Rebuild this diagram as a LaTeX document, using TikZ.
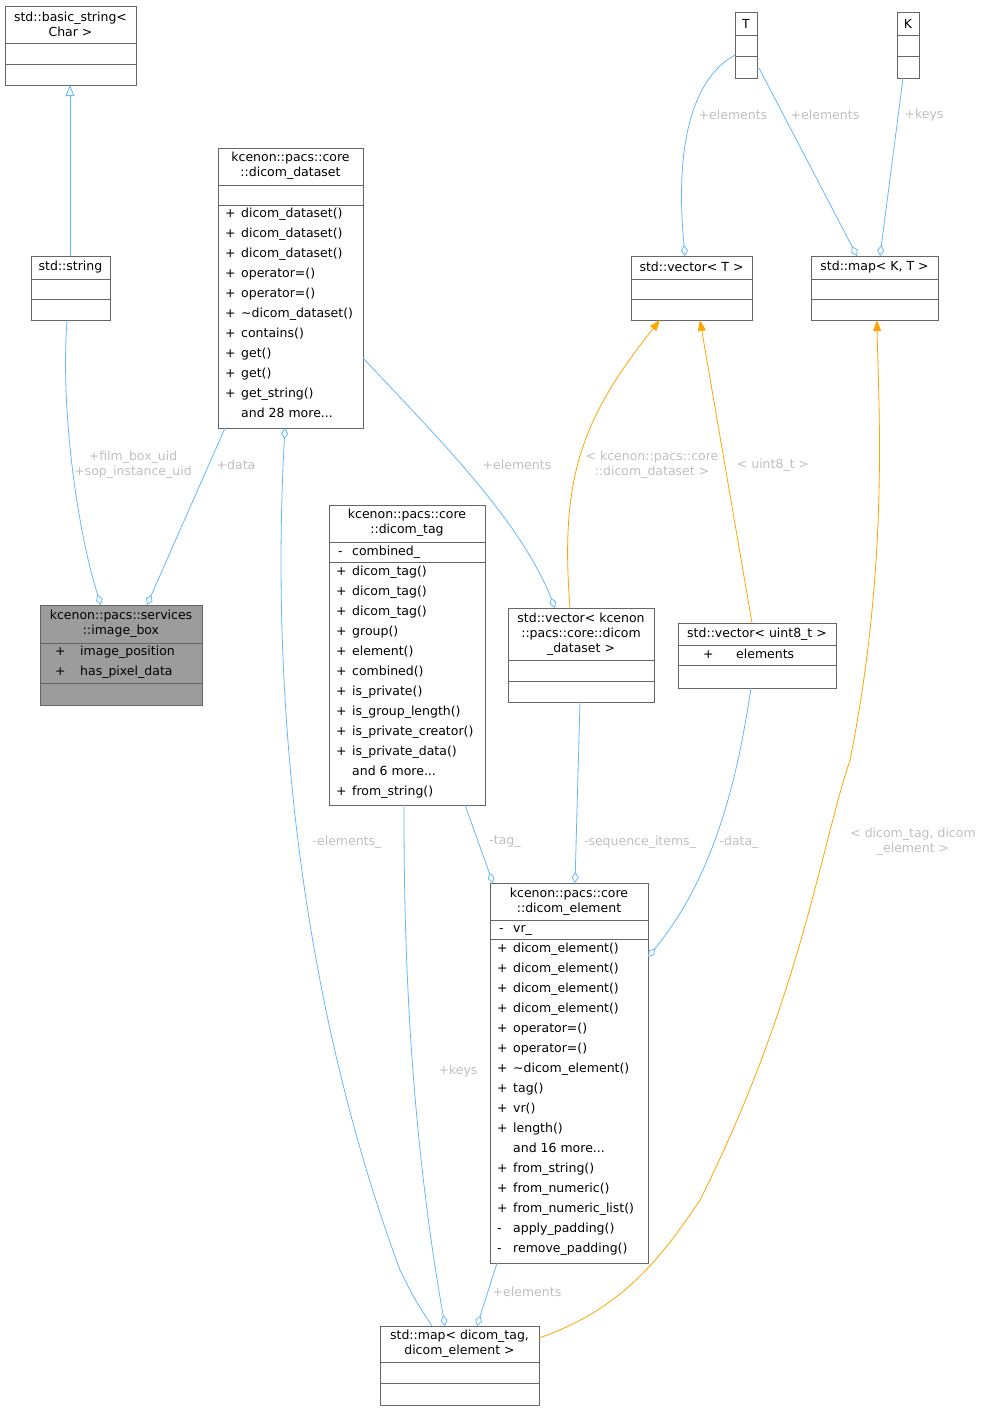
\documentclass[tikz,border=0pt]{standalone}
\usepackage{fontspec}
\setmainfont{DejaVu Sans}
\usetikzlibrary{arrows.meta}
\definecolor{eb}{HTML}{63B8FF}
\definecolor{eo}{HTML}{FFA500}
\definecolor{lg}{HTML}{BFBFBF}
\definecolor{bd}{HTML}{666666}
\newcommand\mdots{.\kern0pt.\kern0pt.}
\begin{document}
\begin{tikzpicture}[x=1pt,y=-1pt,
  font=\fontsize{12.5}{15}\selectfont,
  box/.style={draw=bd,line width=0.8pt},
  mem/.style={anchor=west,inner sep=0pt,text height=9pt,text depth=2.5pt},
  ttl/.style={align=center,inner sep=0pt},
  lbl/.style={text=lg,align=center,inner sep=0pt},
  agg/.style={draw=eb,line width=0.8pt,{Diamond[open,length=11pt,width=7pt]}-},
  tpl/.style={draw=eo,line width=0.8pt,-{Triangle[length=11pt,width=8pt]}}]
\useasboundingbox (0,0) rectangle (985,1411);
% basic_string
\draw[box] (5,6) rectangle (136,85); \draw[bd,line width=0.8pt] (5,43)--(136,43) (5,64)--(136,64);
\node[ttl] (bst) at (70.5,24) {std::basic\_string<\\Char >};
% std::string
\draw[box] (31,256) rectangle (110,320); \draw[bd,line width=0.8pt] (31,279)--(110,279) (31,299)--(110,299);
\node[ttl] (st) at (70.5,267) {std::string};
% dicom_dataset
\draw[box] (218,148) rectangle (363,428); \draw[bd,line width=0.8pt] (218,185)--(363,185) (218,205)--(363,205);
\node[ttl] (dst) at (290.5,166) {kcenon::pacs::core\\::dicom\_dataset};
\foreach[count=\i] \s/\t in {+/dicom\_dataset(),+/dicom\_dataset(),+/dicom\_dataset(),+/operator=(),+/operator=(),+/\textasciitilde dicom\_dataset(),+/contains(),+/get(),+/get(),+/get\_string(),{}/and 28 more\mdots}
 {\node[mem] at (225,194+20*\i) {\s}; \node[mem] at (241,194+20*\i) {\t};}
% image_box
\fill[gray!78] (40,605) rectangle (202,705);
\draw[box] (40,605) rectangle (202,705); \draw[bd,line width=0.8pt] (40,643)--(202,643) (40,683)--(202,683);
\node[ttl] (ibt) at (121,624) {kcenon::pacs::services\\::image\_box};
\node[mem] at (55,652) {+}; \node[mem] at (80,652) {image\_position};
\node[mem] at (55,672) {+}; \node[mem] at (80,672) {has\_pixel\_data};
% dicom_tag
\draw[box] (329,505) rectangle (485,805); \draw[bd,line width=0.8pt] (329,542)--(485,542) (329,562)--(485,562);
\node[ttl] (dtt) at (407,523) {kcenon::pacs::core\\::dicom\_tag};
\node[mem] at (338,552) {-}; \node[mem] at (352,552) {combined\_};
\foreach[count=\i] \s/\t in {+/dicom\_tag(),+/dicom\_tag(),+/dicom\_tag(),+/group(),+/element(),+/combined(),+/is\_private(),+/is\_group\_length(),+/is\_private\_creator(),+/is\_private\_data(),{}/and 6 more\mdots,+/from\_string()}
 {\node[mem] at (336,552+20*\i) {\s}; \node[mem] at (352,552+20*\i) {\t};}
% vector<dataset>
\draw[box] (508,608) rectangle (654,702); \draw[bd,line width=0.8pt] (508,660)--(654,660) (508,681)--(654,681);
\node[ttl] (vdt) at (581,634) {std::vector< kcenon\\::pacs::core::dicom\\\_dataset >};
% vector<uint8_t>
\draw[box] (678,623) rectangle (836,688); \draw[bd,line width=0.8pt] (678,645)--(836,645) (678,665)--(836,665);
\node[ttl] (vut) at (757,634) {std::vector< uint8\_t >};
\node[mem] at (703,655) {+}; \node[mem] at (736,655) {elements};
% T
\draw[box] (735,12) rectangle (757,78); \draw[bd,line width=0.8pt] (735,35)--(757,35) (735,56)--(757,56);
\node[ttl] (tt) at (746,24) {T};
% K
\draw[box] (897,12) rectangle (919,78); \draw[bd,line width=0.8pt] (897,35)--(919,35) (897,56)--(919,56);
\node[ttl] (kt) at (908,24) {K};
% vector<T>
\draw[box] (631,256) rectangle (752,320); \draw[bd,line width=0.8pt] (631,279)--(752,279) (631,299)--(752,299);
\node[ttl] (vtt) at (691.5,267) {std::vector< T >};
% map<K,T>
\draw[box] (811,256) rectangle (938,320); \draw[bd,line width=0.8pt] (811,279)--(938,279) (811,299)--(938,299);
\node[ttl] (mkt) at (874.5,267) {std::map< K, T >};
% dicom_element
\draw[box] (490,883) rectangle (648,1263); \draw[bd,line width=0.8pt] (490,920)--(648,920) (490,939)--(648,939);
\node[ttl] (det) at (569,902) {kcenon::pacs::core\\::dicom\_element};
\node[mem] at (499,929) {-}; \node[mem] at (513,929) {vr\_};
\foreach[count=\i] \s/\t in {+/dicom\_element(),+/dicom\_element(),+/dicom\_element(),+/dicom\_element(),+/operator=(),+/operator=(),+/\textasciitilde dicom\_element(),+/tag(),+/vr(),+/length(),{}/and 16 more\mdots,+/from\_string(),+/from\_numeric(),+/from\_numeric\_list(),-/apply\_padding(),-/remove\_padding()}
 {\node[mem] at (497,929+20*\i) {\s}; \node[mem] at (513,929+20*\i) {\t};}
% map<dicom_tag,...>
\draw[box] (380,1326) rectangle (539,1405); \draw[bd,line width=0.8pt] (380,1362)--(539,1362) (380,1383)--(539,1383);
\node[ttl] (mdt) at (459.5,1344) {std::map< dicom\_tag,\\dicom\_element >};
% anchor coordinates
\coordinate (a1) at (70,85); \coordinate (a2) at (70,256);
\coordinate (b1) at (101,605); \coordinate (b2) at (67,320);
\coordinate (c1) at (147,605); \coordinate (c2) at (225,428);
\coordinate (d1) at (285,428); \coordinate (d2) at (432,1326);
\coordinate (e1) at (555,608); \coordinate (e2) at (363,358);
\coordinate (f1) at (493,883); \coordinate (f2) at (465,805);
\coordinate (g1) at (445,1326); \coordinate (g2) at (404,805);
\coordinate (h1) at (575,883); \coordinate (h2) at (580,702);
\coordinate (i1) at (648,957); \coordinate (i2) at (751,688);
\coordinate (j1) at (477,1326); \coordinate (j2) at (497,1263);
\coordinate (k1) at (685,256); \coordinate (k2) at (735,55);
\coordinate (l1) at (857,256); \coordinate (l2) at (759,68);
\coordinate (m1) at (880,256); \coordinate (m2) at (903,78);
\coordinate (n1) at (570,608); \coordinate (n2) at (660,320);
\coordinate (o1) at (752,623); \coordinate (o2) at (700,320);
\coordinate (p1) at (539,1338); \coordinate (p2) at (877,320);
% connectors
\draw[eb,line width=0.8pt,-{Triangle[open,length=11pt,width=9pt]}] (a2)--(a1);
\draw[agg] (b1) .. controls (80,540) and (60,420) .. (b2);
\draw[agg] (c1) -- (c2);
\draw[agg] (d1) .. controls (270,700) and (300,1000) .. (400,1270) .. controls (415,1300) .. (d2);
\draw[agg] (e1) .. controls (520,520) and (440,440) .. (e2);
\draw[agg] (f1) -- (f2);
\draw[agg] (g1) .. controls (405,1100) and (404,900) .. (g2);
\draw[agg] (h1) -- (h2);
\draw[agg] (i1) .. controls (720,870) and (740,760) .. (i2);
\draw[agg] (j1) -- (j2);
\draw[agg] (k1) .. controls (675,150) and (690,80) .. (k2);
\draw[agg] (l1) -- (l2);
\draw[agg] (m1) -- (m2);
\draw[tpl] (n1) .. controls (560,480) and (580,420) .. (n2);
\draw[tpl] (o1) -- (o2);
\draw[tpl] (p1) .. controls (620,1310) and (660,1260) .. (700,1200) .. controls (800,1000) and (820,850) .. (850,760) .. controls (890,560) and (878,400) .. (p2);
% labels
\node[lbl] at (133,465) {+film\_box\_uid\\+sop\_instance\_uid};
\node[lbl] at (236,465) {+data};
\node[lbl] at (347,842) {-elements\_};
\node[lbl] at (517,465) {+elements};
\node[lbl] at (505,842) {-tag\_};
\node[lbl] at (458,1071) {+keys};
\node[lbl] at (640,842) {-sequence\_items\_};
\node[lbl] at (739,842) {-data\_};
\node[lbl] at (527,1292) {+elements};
\node[lbl] at (733,115) {+elements};
\node[lbl] at (825,115) {+elements};
\node[lbl] at (924,115) {+keys};
\node[lbl] at (652,465) {< kcenon::pacs::core\\::dicom\_dataset >};
\node[lbl] at (773,465) {< uint8\_t >};
\node[lbl] at (913,842) {< dicom\_tag, dicom\\\_element >};
\end{tikzpicture}
\end{document}
